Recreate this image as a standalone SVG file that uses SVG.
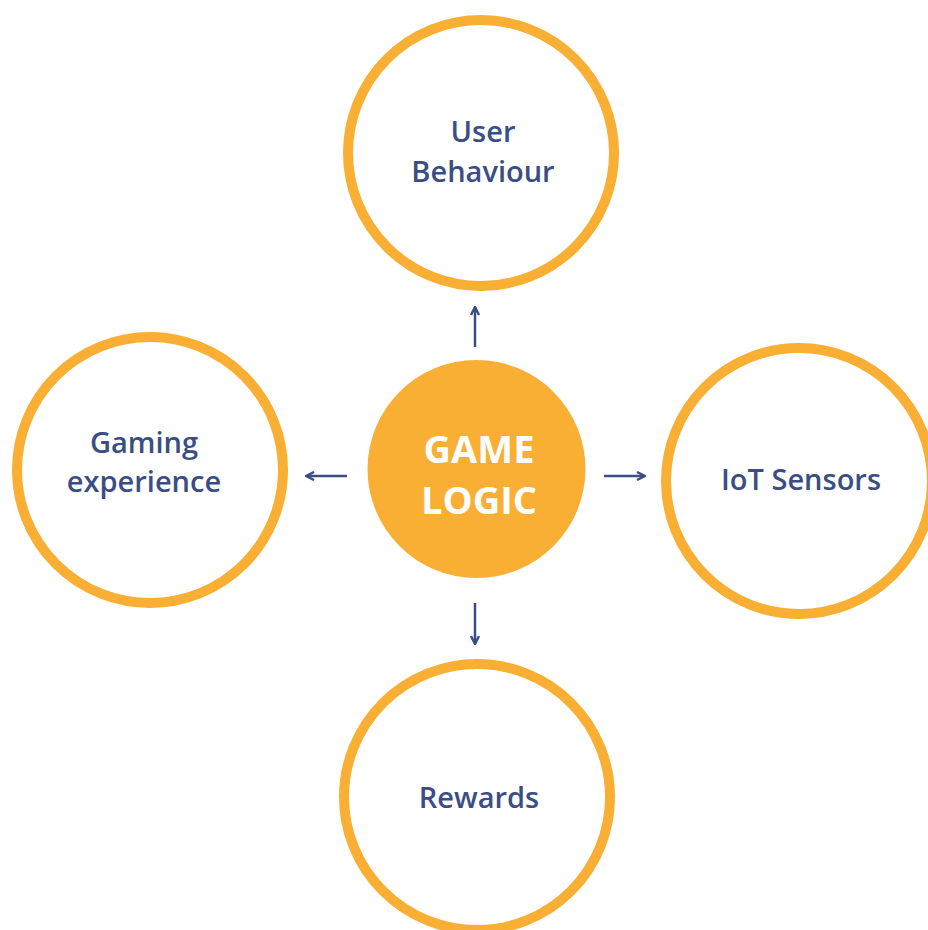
<svg xmlns="http://www.w3.org/2000/svg" width="928" height="930" viewBox="0 0 928 930">
<style>
.ring{fill:#ffffff;stroke:#F8AF34;stroke-width:10}
.hub{fill:#F8AF34}
.lbl{font-family:"Open Sans","Liberation Sans",sans-serif;font-weight:600;font-size:29px;fill:#3A4E85;text-anchor:middle}
.hubt{font-family:"Open Sans","Liberation Sans",sans-serif;font-weight:700;font-size:38px;fill:#ffffff;text-anchor:middle}
.con{stroke:#3A4E85;stroke-width:2.5;fill:none}
</style>
<defs>
<marker id="ah" viewBox="0 0 10 10" refX="9" refY="5" markerWidth="4" markerHeight="4" orient="auto" markerUnits="strokeWidth">
<path d="M1,1 L9,5 L1,9" fill="none" stroke="#3A4E85" stroke-width="2.4"/>
</marker>
</defs>
<rect width="928" height="930" fill="#ffffff"/>
<g id="user-behaviour">
<circle class="ring" cx="481" cy="153" r="133"/>
<text class="lbl" x="483" y="142">User</text>
<text class="lbl" x="483" y="182">Behaviour</text>
</g>
<g id="gaming-experience">
<circle class="ring" cx="150" cy="470" r="133"/>
<text class="lbl" x="144" y="453">Gaming</text>
<text class="lbl" x="144" y="492">experience</text>
</g>
<g id="iot-sensors">
<circle class="ring" cx="799" cy="481" r="133"/>
<text class="lbl" x="801" y="490">IoT Sensors</text>
</g>
<g id="rewards">
<circle class="ring" cx="477" cy="797" r="133"/>
<text class="lbl" x="479" y="808">Rewards</text>
</g>
<g id="game-logic">
<circle class="hub" cx="476.5" cy="469" r="109"/>
<text class="hubt" x="479" y="463">GAME</text>
<text class="hubt" x="479" y="514">LOGIC</text>
</g>
<g id="connectors">
<line class="con" x1="475" y1="347" x2="475" y2="307" marker-end="url(#ah)"/>
<line class="con" x1="347" y1="476" x2="306" y2="476" marker-end="url(#ah)"/>
<line class="con" x1="604" y1="476" x2="645" y2="476" marker-end="url(#ah)"/>
<line class="con" x1="475" y1="603" x2="475" y2="644" marker-end="url(#ah)"/>
</g>
</svg>
